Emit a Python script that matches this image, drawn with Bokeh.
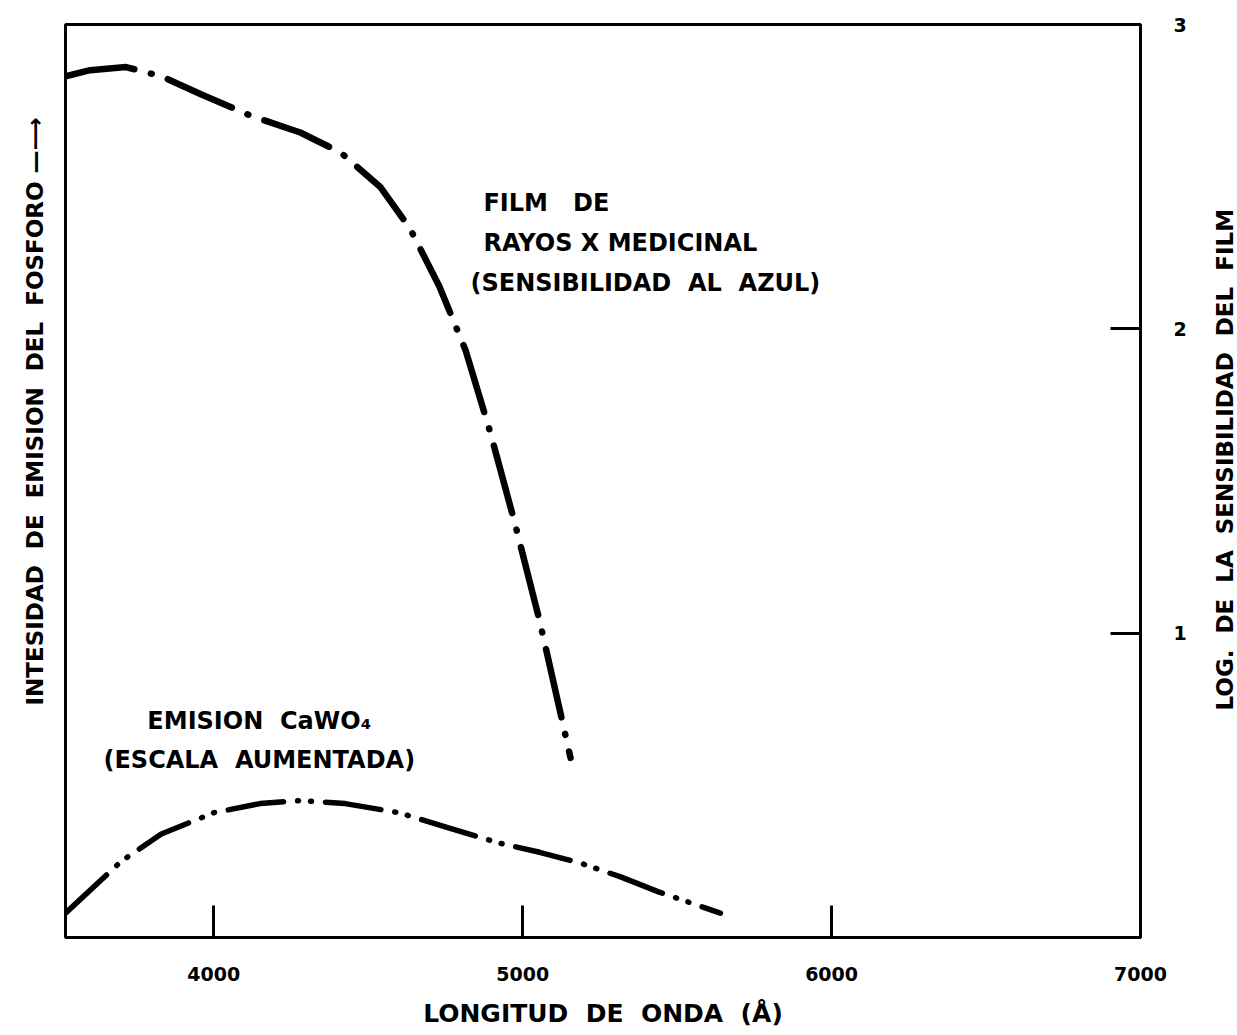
from bokeh.plotting import figure
from bokeh.models import Range1d, LinearAxis, Label, FixedTicker, Title
from bokeh.layouts import row
from bokeh.embed import file_html
from bokeh.resources import INLINE

# ---- data ----
film_x = [3520, 3600, 3716, 3830, 3960, 4120, 4280, 4410, 4540, 4635, 4730, 4815, 4895, 4975, 5055, 5155]
film_y = [2.83, 2.85, 2.86, 2.83, 2.77, 2.70, 2.645, 2.58, 2.465, 2.33, 2.14, 1.93, 1.66, 1.36, 1.04, 0.59]

em_x = [3520, 3700, 3830, 4000, 4150, 4280, 4425, 4600, 4760, 4925, 5055, 5185, 5315, 5440, 5640]
em_y = [0.08, 0.25, 0.34, 0.41, 0.44, 0.45, 0.44, 0.41, 0.36, 0.31, 0.28, 0.245, 0.20, 0.15, 0.08]

x_ticks = [4000, 5000, 6000, 7000]
y_ticks = [1, 2, 3]

FONT = "DejaVu Sans"
SP = "\u00a0\u00a0"

p = figure(frame_width=1075, frame_height=913,
           x_range=Range1d(3520, 7000), y_range=Range1d(0, 3),
           output_backend="svg", toolbar_location=None,
           min_border_left=65, min_border_top=24, min_border_right=46, min_border_bottom=94,
           x_axis_location=None, y_axis_location=None)
p.grid.visible = False
p.outline_line_color = "black"
p.outline_line_width = 3
p.background_fill_color = "white"
p.border_fill_color = "white"

xa = LinearAxis(ticker=FixedTicker(ticks=x_ticks))
xa.axis_line_width = 3
xa.major_tick_line_width = 3
xa.major_tick_in = 32
xa.major_tick_out = 0
xa.minor_tick_line_color = None
xa.major_label_standoff = 29
xa.major_label_text_font = FONT
xa.major_label_text_font_style = "bold"
xa.major_label_text_font_size = "19px"
xa.major_label_text_color = "black"
xa.axis_label = "LONGITUD" + SP + "DE" + SP + "ONDA" + SP + "(Å)"
xa.axis_label_text_font = FONT
xa.axis_label_text_font_style = "bold"
xa.axis_label_text_font_size = "25px"
xa.axis_label_text_color = "black"
xa.axis_label_standoff = 15
p.add_layout(xa, "below")

ya = LinearAxis(ticker=FixedTicker(ticks=y_ticks))
ya.axis_line_width = 3
ya.major_tick_line_width = 3
ya.major_tick_in = 30
ya.major_tick_out = 0
ya.minor_tick_line_color = None
ya.major_label_standoff = 33
ya.major_label_text_font = FONT
ya.major_label_text_font_style = "bold"
ya.major_label_text_font_size = "19px"
ya.major_label_text_color = "black"
p.add_layout(ya, "right")

p.line(film_x, film_y, line_color="black", line_width=6.5, line_dash="70 17 1 17", line_cap="round")
p.line(em_x, em_y, line_color="black", line_width=5.5, line_dash="56 14 1 12 1 14", line_cap="round")

def lab(x, y, t, **kw):
    p.add_layout(Label(x=x, y=y, text=t, text_font=FONT, text_font_style="bold",
                       text_font_size=kw.pop("size", "24px"), text_color="black",
                       text_baseline="middle", **kw))

lab(4873, 2.412, "FILM" + SP + "\u00a0DE")
lab(4873, 2.281, "RAYOS X MEDICINAL")
lab(4831, 2.149, "(SENSIBILIDAD AL AZUL)".replace(" ", "\u00a0 "))
lab(3785, 0.713, "EMISION" + SP + "CaWO₄")
lab(3643, 0.582, "(ESCALA" + SP + "AUMENTADA)")

left_t = Title(text="INTESIDAD" + SP + "DE" + SP + "EMISION" + SP + "DEL" + SP + "FOSFORO \u2014\u27f6",
               align="left", offset=232, text_font=FONT, text_font_style="bold",
               text_font_size="23px", text_color="black", standoff=36)
p.add_layout(left_t, "left")

# right-hand axis title (reads bottom to top), in a narrow companion panel
p2 = figure(frame_width=1, frame_height=913, output_backend="svg", toolbar_location=None,
            min_border_left=48, min_border_top=24, min_border_bottom=94, min_border_right=0,
            x_axis_location=None, y_axis_location=None)
p2.grid.visible = False
p2.outline_line_color = None
p2.background_fill_color = "white"
p2.border_fill_color = "white"
right_t = Title(text="LOG. DE LA SENSIBILIDAD DEL FILM".replace(" ", "\u00a0 "),
                align="left", offset=227, text_font=FONT, text_font_style="bold",
                text_font_size="23px", text_color="black", standoff=0)
p2.add_layout(right_t, "left")

layout = row(p, p2)
open("out.html", "w").write(file_html(layout, INLINE))
